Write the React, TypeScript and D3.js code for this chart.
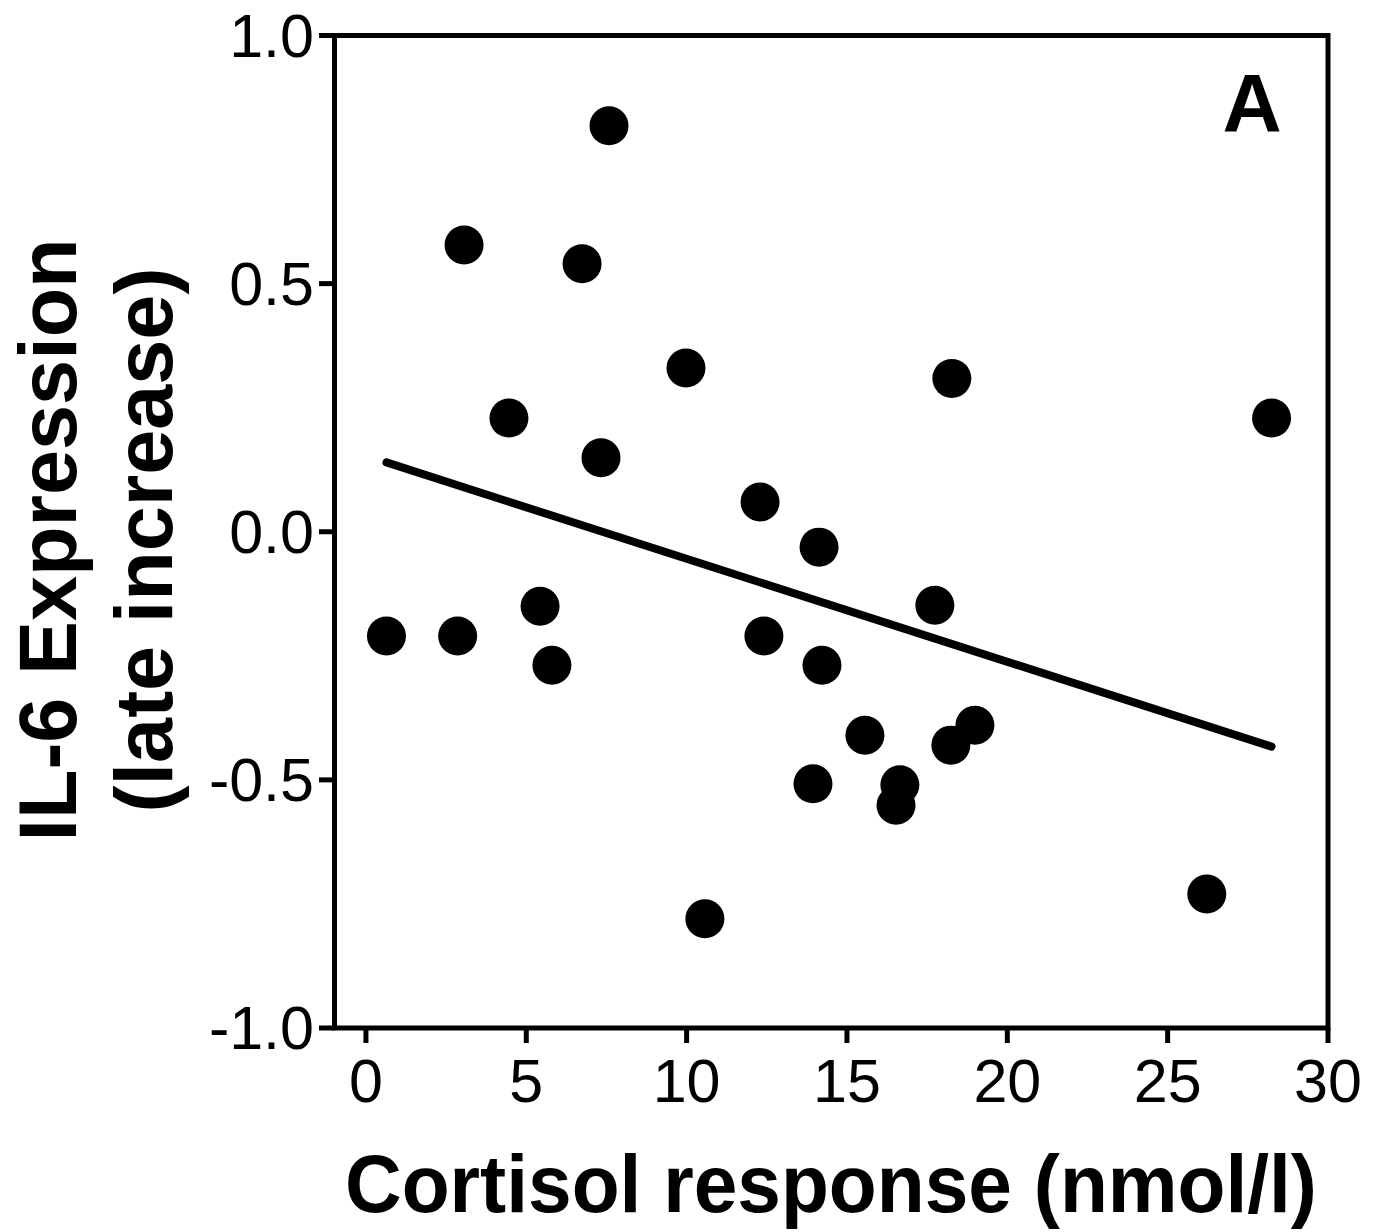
import React from "react";
import * as d3 from "d3";

const cortisol = [0.64, 2.86, 3.06, 4.46, 5.43, 5.8, 6.74, 7.33, 7.58, 9.98, 10.57, 12.29, 12.41, 13.94, 14.13, 14.22, 15.56, 16.53, 16.65, 17.74, 18.27, 18.24, 18.99, 26.22, 28.24];
const il6 = [-0.21, -0.21, 0.578, 0.229, -0.15, -0.269, 0.54, 0.149, 0.818, 0.33, -0.78, 0.06, -0.21, -0.508, -0.031, -0.269, -0.41, -0.551, -0.51, -0.148, 0.309, -0.43, -0.39, -0.73, 0.229];
const xTicks = [0, 5, 10, 15, 20, 25, 30];
const yTicks = [1.0, 0.5, 0.0, -0.5, -1.0];
const yTickLabels = ["1.0", "0.5", "0.0", "-0.5", "-1.0"];
const xTitle = "Cortisol response (nmol/l)";
const yTitle1 = "IL-6 Expression";
const yTitle2 = "(late increase)";
const panelLabel = "A";

const FONT = "'Liberation Sans', Arial, Helvetica, sans-serif";

export default function App() {
  const W = 1381, H = 1232;
  const left = 334.5, right = 1328, top = 35.5, bottom = 1028;
  const x = d3.scaleLinear().domain([-0.98, 30]).range([left, right]);
  const y = d3.scaleLinear().domain([-1, 1]).range([bottom, top]);

  const n = cortisol.length;
  const mx = d3.mean(cortisol) as number;
  const my = d3.mean(il6) as number;
  let sxy = 0, sxx = 0;
  for (let i = 0; i < n; i++) {
    sxy += (cortisol[i] - mx) * (il6[i] - my);
    sxx += (cortisol[i] - mx) ** 2;
  }
  const slope = sxy / sxx;
  const icpt = my - slope * mx;
  const [x0, x1] = d3.extent(cortisol) as [number, number];
  const line = d3.line<[number, number]>().x((d) => x(d[0])).y((d) => y(d[1]));
  const fitPath = line([[x0, icpt + slope * x0], [x1, icpt + slope * x1]]) || "";

  return (
    <svg width={W} height={H} style={{ display: "block", position: "absolute", left: 0, top: 0 }} fontFamily={FONT}>
      <rect x={0} y={0} width={W} height={H} fill="#fff" />
      {/* frame */}
      <rect x={left} y={top} width={right - left} height={bottom - top} fill="none" stroke="#000" strokeWidth={5} />
      {/* y ticks */}
      {yTicks.map((t, i) => (
        <g key={"y" + t}>
          <line x1={319} x2={left} y1={y(t)} y2={y(t)} stroke="#000" strokeWidth={5} />
          <text x={314} y={y(t) + 21} textAnchor="end" fontSize={61} fill="#000">
            {yTickLabels[i]}
          </text>
        </g>
      ))}
      {/* x ticks */}
      {xTicks.map((t) => (
        <g key={"x" + t}>
          <line x1={x(t)} x2={x(t)} y1={bottom} y2={1043} stroke="#000" strokeWidth={5} />
          <text x={x(t)} y={1102} textAnchor="middle" fontSize={61} fill="#000">
            {t}
          </text>
        </g>
      ))}
      {/* regression line */}
      <path d={fitPath} fill="none" stroke="#000" strokeWidth={8} strokeLinecap="round" />
      {/* points */}
      {cortisol.map((cx, i) => (
        <circle key={i} cx={x(cx)} cy={y(il6[i])} r={19.5} fill="#000" />
      ))}
      {/* panel label */}
      <text x={1252} y={131} textAnchor="middle" fontSize={82} fontWeight="bold" fill="#000">
        {panelLabel}
      </text>
      {/* x title */}
      <text x={831} y={1212} textAnchor="middle" fontSize={82} fontWeight="bold" fill="#000" textLength={972} lengthAdjust="spacingAndGlyphs">
        {xTitle}
      </text>
      {/* y title */}
      <g transform="translate(76,540) rotate(-90)">
        <text x={0} y={0} textAnchor="middle" fontSize={81} fontWeight="bold" fill="#000">
          {yTitle1}
        </text>
      </g>
      <g transform="translate(172,540) rotate(-90)">
        <text x={0} y={0} textAnchor="middle" fontSize={81} fontWeight="bold" fill="#000">
          {yTitle2}
        </text>
      </g>
    </svg>
  );
}
